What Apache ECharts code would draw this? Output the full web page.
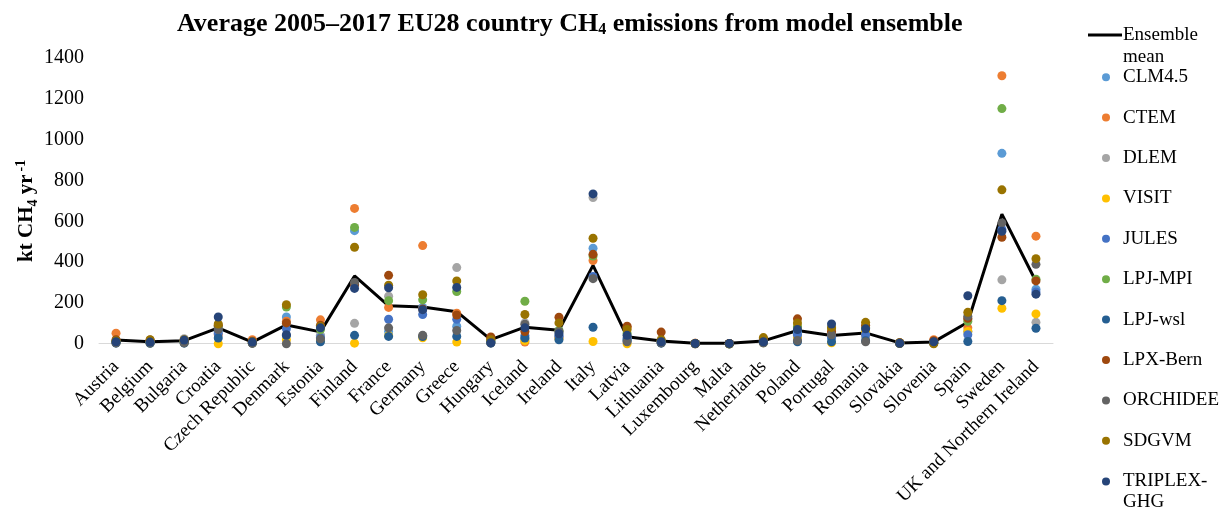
<!DOCTYPE html>
<html>
<head>
<meta charset="utf-8">
<script src="https://cdn.jsdelivr.net/npm/echarts@6/dist/echarts.min.js"></script>
<style>html,body{margin:0;padding:0;background:#fff}#c{width:1224px;height:508px}</style>
</head>
<body>
<div id="c"></div>
<script>
const countries = ["Austria","Belgium","Bulgaria","Croatia","Czech Republic","Denmark","Estonia","Finland","France","Germany","Greece","Hungary","Iceland","Ireland","Italy","Latvia","Lithuania","Luxembourg","Malta","Netherlands","Poland","Portugal","Romania","Slovakia","Slovenia","Spain","Sweden","UK and Northern Ireland"];
const yTicks = [0,200,400,600,800,1000,1200,1400];

const ensembleMean = [18,10,15,78,8,92,58,332,186,180,157,20,81,66,384,34,13,2,2,14,65,40,53,4,9,105,635,305];
const clm45   = [10,5,10,60,5,131,40,554,60,178,86,10,25,40,468,20,8,1,0,10,55,30,40,3,5,60,933,267];
const ctem    = [52,15,15,44,20,110,117,663,178,481,150,25,8,30,408,80,10,2,1,20,80,50,40,5,20,78,1313,527];
const dlem    = [10,10,25,80,5,100,40,100,233,40,373,15,102,60,716,30,10,1,0,15,40,40,30,5,10,120,313,105];
const visit   = [5,3,5,0,3,20,15,3,40,29,8,5,15,25,11,0,5,0,0,5,30,5,60,2,3,60,174,146];
const jules   = [8,5,10,50,5,73,30,290,120,143,120,10,40,35,330,25,5,1,0,10,44,30,45,3,5,44,560,254];
const lpjMpi  = [12,8,12,85,8,180,70,570,211,215,256,15,208,65,430,50,15,1,0,15,85,75,80,5,10,110,1152,316];
const lpjWsl  = [3,2,3,28,3,40,10,41,36,35,36,3,28,19,81,15,3,0,0,5,10,10,15,1,2,11,211,76];
const lpxBern = [20,18,15,90,12,102,90,290,335,170,141,33,60,130,438,86,57,2,1,25,122,60,90,5,15,125,522,308];
const orchidee= [5,5,5,70,2,0,24,300,78,41,65,5,95,60,319,10,5,0,0,5,16,44,10,2,5,135,592,389];
const sdgvm   = [15,20,20,97,10,191,85,473,287,240,308,20,143,102,517,70,20,1,0,30,102,80,105,3,0,154,754,417];
const triplex = [10,8,18,131,8,44,78,271,274,167,276,5,78,49,734,41,10,1,1,10,70,97,73,3,10,235,551,243];

const models = [
  ["CLM4.5", clm45, "#5B9BD5"],
  ["CTEM", ctem, "#ED7D31"],
  ["DLEM", dlem, "#A5A5A5"],
  ["VISIT", visit, "#FFC000"],
  ["JULES", jules, "#4472C4"],
  ["LPJ-MPI", lpjMpi, "#70AD47"],
  ["LPJ-wsl", lpjWsl, "#255E91"],
  ["LPX-Bern", lpxBern, "#9E480E"],
  ["ORCHIDEE", orchidee, "#636363"],
  ["SDGVM", sdgvm, "#997300"],
  ["TRIPLEX-GHG", triplex, "#264478"]
];

const FF = '"Liberation Serif","Times New Roman",serif';
const chart = echarts.init(document.getElementById('c'), null, {renderer:'canvas'});

const series = [{
  name: 'Ensemble mean', type: 'line', data: ensembleMean, symbol: 'none',
  lineStyle: {color:'#000', width: 3}, itemStyle:{color:'#000'}, z: 1
}];
models.forEach(m => series.push({
  name: m[0], type: 'scatter', data: m[1], symbolSize: 9,
  itemStyle: {color: m[2], opacity: 1}, z: 2
}));

chart.setOption({
  animation: false,
  backgroundColor: '#fff',
  title: {
    text: '{t|Average 2005–2017 EU28 country CH}{s|4}{t| emissions from model ensemble}',
    left: 177, top: 10, padding: 0,
    textStyle: {
      rich: {
        t: {fontFamily: FF, fontWeight: 'bold', fontSize: 26, color: '#000'},
        s: {fontFamily: FF, fontWeight: 'bold', fontSize: 16, color: '#000', padding:[12,0,0,0]}
      }
    }
  },
  legend: [{
    data: ['Ensemble mean'],
    orient: 'vertical', left: 1088, top: 2, padding: 0,
    itemWidth: 34, itemHeight: 3,
    icon: 'rect',
    formatter: () => ' \nEnsemble\nmean',
    textStyle: {fontFamily: FF, fontSize: 19, color: '#000', lineHeight: 22, padding:[0,0,0,-4]}
  }, {
    data: models.slice(0,10).map(m => m[0]),
    orient: 'vertical', left: 1102, top: 67.7, padding: 0,
    icon: 'circle', itemWidth: 8, itemHeight: 8, itemGap: 21.4,
    textStyle: {fontFamily: FF, fontSize: 19, color: '#000', lineHeight: 18, padding:[0,0,0,8]}
  }, {
    data: ['TRIPLEX-GHG'],
    orient: 'vertical', left: 1102, top: 450, padding: 0,
    icon: 'circle', itemWidth: 8, itemHeight: 8,
    formatter: () => ' \nTRIPLEX-\nGHG',
    textStyle: {fontFamily: FF, fontSize: 19, color: '#000', lineHeight: 21, padding:[0,0,0,8]}
  }],
  grid: {left: 99, right: 171, top: 58, bottom: 162, containLabel: false},
  xAxis: {
    type: 'category', data: countries, boundaryGap: true,
    axisLine: {show: true, lineStyle: {color: '#d9d9d9', width: 1}},
    axisTick: {show: false},
    axisLabel: {rotate: 45, interval: 0, margin: 20, fontFamily: FF, fontSize: 19, color: '#000'}
  },
  yAxis: {
    type: 'value', min: 0, max: 1400, interval: 200,
    name: '{b|kt CH}{s|4}{b| yr}{p|-1}{g|}',
    nameLocation: 'middle', nameGap: 59, nameRotate: 90, nameMoveOverlap: false,
    nameTextStyle: {
      rich: {
        b: {fontFamily: FF, fontWeight: 'bold', fontSize: 21, color: '#000'},
        s: {fontFamily: FF, fontWeight: 'bold', fontSize: 14, color: '#000', padding:[12,0,0,0]},
        p: {fontFamily: FF, fontWeight: 'bold', fontSize: 14, color: '#000', padding:[0,0,12,3]},
        g: {width: 20}
      }
    },
    axisLine: {show: false}, axisTick: {show: false}, splitLine: {show: false},
    axisLabel: {margin: 15, fontFamily: FF, fontSize: 20, color: '#000', formatter: v => yTicks.includes(v) ? String(v) : ''}
  },
  series: series
});
</script>
</body>
</html>
